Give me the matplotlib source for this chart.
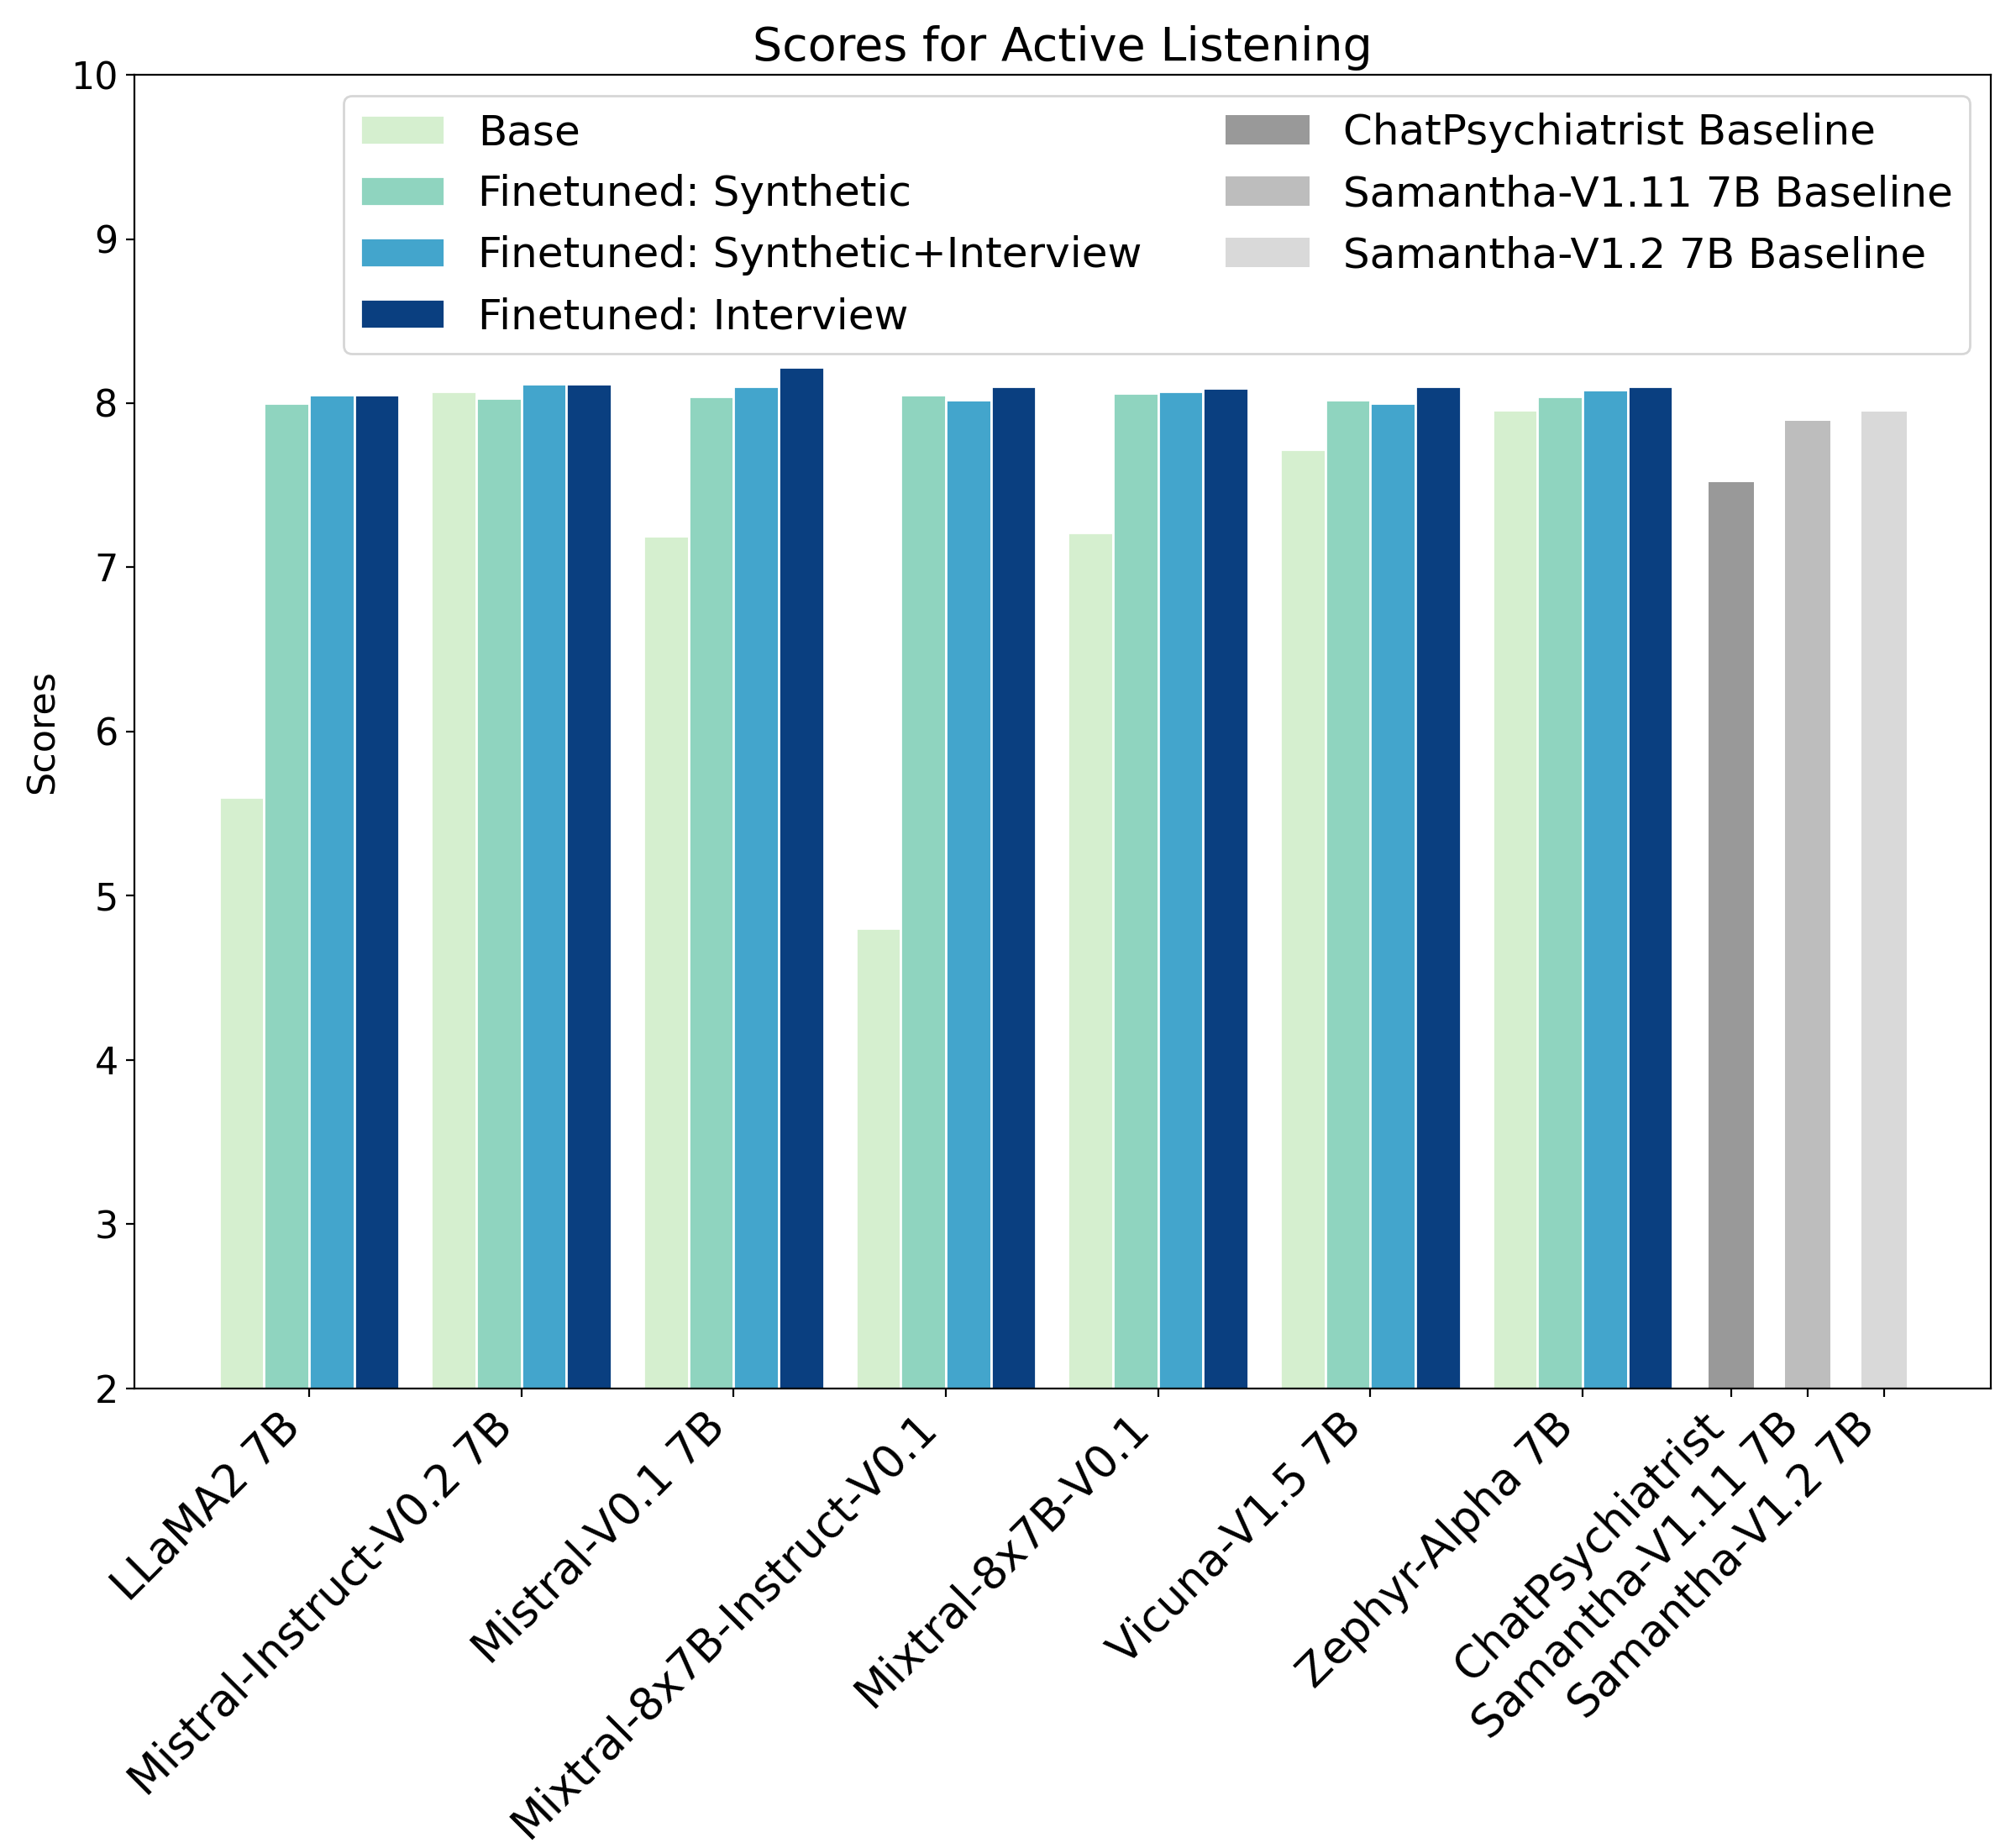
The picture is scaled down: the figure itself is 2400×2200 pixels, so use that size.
import numpy as np
import matplotlib
matplotlib.use("Agg")
import matplotlib.pyplot as plt


# models with all four variants
models = ["LLaMA2 7B", "Mistral-Instruct-V0.2 7B", "Mistral-V0.1 7B",
          "Mixtral-8x7B-Instruct-V0.1", "Mixtral-8x7B-V0.1", "Vicuna-V1.5 7B",
          "Zephyr-Alpha 7B"]
base        = [5.60, 8.07, 7.19, 4.80, 7.21, 7.72, 7.96]
synthetic   = [8.00, 8.03, 8.04, 8.05, 8.06, 8.02, 8.04]
synth_inter = [8.05, 8.12, 8.10, 8.02, 8.07, 8.00, 8.08]
interview   = [8.05, 8.12, 8.22, 8.10, 8.09, 8.10, 8.10]

series_labels = ["Base", "Finetuned: Synthetic", "Finetuned: Synthetic+Interview",
                 "Finetuned: Interview"]
series_colors = ["#d5efcf", "#8fd4bf", "#43a5cc", "#0a3f80"]

# baselines
baseline_names  = ["ChatPsychiatrist", "Samantha-V1.11 7B", "Samantha-V1.2 7B"]
baseline_labels = ["ChatPsychiatrist Baseline", "Samantha-V1.11 7B Baseline",
                   "Samantha-V1.2 7B Baseline"]
baseline_scores = [7.52, 7.89, 7.95]
baseline_colors = ["#999999", "#bdbdbd", "#d9d9d9"]

WIDTH = 0.2125


fig, ax = plt.subplots(figsize=(12, 11), dpi=200)
fig.subplots_adjust(left=0.0667, right=0.9875, top=0.9595, bottom=0.2488)

x = np.arange(len(models))
all_series = [base, synthetic, synth_inter, interview]
for i, vals in enumerate(all_series):
    ax.bar(x + (i - 1.5) * WIDTH, np.array(vals) - 2, WIDTH, bottom=2,
           color=series_colors[i], edgecolor="white", linewidth=1,
           label=series_labels[i])

bx = len(models) - 1 + 0.7 + np.arange(len(baseline_scores)) * 0.36
for i in range(len(baseline_scores)):
    ax.bar(bx[i], baseline_scores[i] - 2, WIDTH, bottom=2,
           color=baseline_colors[i], label=baseline_labels[i])

ax.set_ylim(2, 10)
ax.set_xticks(list(x) + list(bx))
ax.set_xticklabels(models + baseline_names, rotation=45, ha="right", fontsize=19)
ax.tick_params(axis="y", labelsize=16)
ax.set_ylabel("Scores", fontsize=16)
ax.set_title("Scores for Active Listening", fontsize=20)
ax.legend(loc="upper right", ncol=2, fontsize=18)

fig.savefig("out.png")
